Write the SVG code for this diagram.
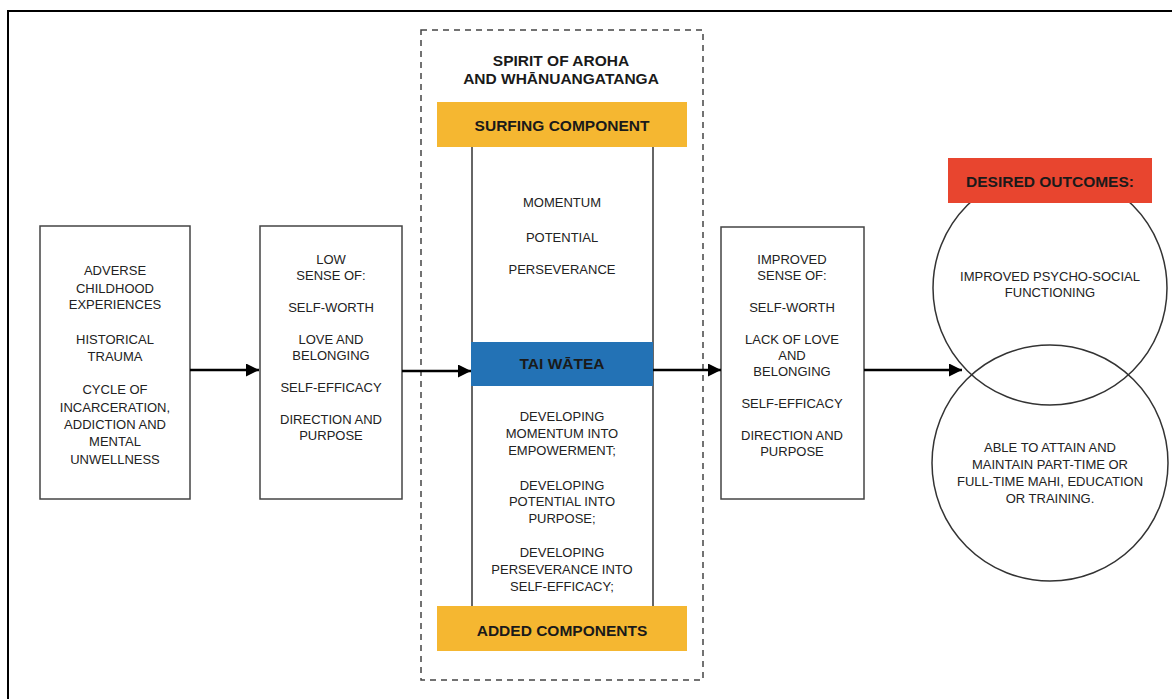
<svg xmlns="http://www.w3.org/2000/svg" width="1172" height="699" viewBox="0 0 1172 699">
  <style>
    .box { fill: #fff; stroke: #444; stroke-width: 1.5; }
    .ring { fill: none; stroke: #333; stroke-width: 1.5; }
    .rail { stroke: #333; stroke-width: 1.5; }
    .t { font-family: "Liberation Sans", Arial, sans-serif; font-size: 13px; fill: #222; text-anchor: middle; }
    .b { font-family: "Liberation Sans", Arial, sans-serif; font-size: 15.5px; font-weight: bold; fill: #1a1a1a; text-anchor: middle; }
    .arrow { stroke: #000; stroke-width: 2.5; fill: none; marker-end: url(#head); }
  </style>
  <defs>
    <marker id="head" markerWidth="13" markerHeight="13" refX="13" refY="6.5" orient="auto" markerUnits="userSpaceOnUse">
      <path d="M0,0 L13,6.5 L0,13 Z" fill="#000"/>
    </marker>
  </defs>

  <rect width="1172" height="699" fill="#fff"/>
  <!-- outer frame -->
  <path d="M8,699 V11 H1172" fill="none" stroke="#000" stroke-width="2"/>

  <!-- dashed programme boundary -->
  <rect x="421" y="30" width="282" height="650" fill="none" stroke="#444" stroke-width="1.5" stroke-dasharray="6,5"/>

  <g id="spirit">
    <text class="b" x="561" y="66">SPIRIT OF AROHA</text>
    <text class="b" x="561" y="84">AND WHĀNUANGATANGA</text>
  </g>

  <g id="rails">
    <line class="rail" x1="472" y1="147" x2="472" y2="606"/>
    <line class="rail" x1="653" y1="147" x2="653" y2="606"/>
  </g>

  <g id="surfing">
    <rect x="437" y="102" width="250" height="45" fill="#F5B731"/>
    <text class="b" x="562" y="131">SURFING COMPONENT</text>
    <text class="t" x="562" y="207">MOMENTUM</text>
    <text class="t" x="562" y="242">POTENTIAL</text>
    <text class="t" x="562" y="274">PERSEVERANCE</text>
  </g>

  <g id="tai-watea">
    <rect x="471" y="342" width="182" height="44" fill="#2372B5"/>
    <text class="b" x="562" y="369">TAI WĀTEA</text>
  </g>

  <g id="developing">
    <text class="t" x="562" y="421">DEVELOPING</text>
    <text class="t" x="562" y="438">MOMENTUM INTO</text>
    <text class="t" x="562" y="455">EMPOWERMENT;</text>
    <text class="t" x="562" y="490">DEVELOPING</text>
    <text class="t" x="562" y="506">POTENTIAL INTO</text>
    <text class="t" x="562" y="523">PURPOSE;</text>
    <text class="t" x="562" y="557">DEVELOPING</text>
    <text class="t" x="562" y="574">PERSEVERANCE INTO</text>
    <text class="t" x="562" y="591">SELF-EFFICACY;</text>
  </g>

  <g id="added">
    <rect x="437" y="606" width="250" height="45" fill="#F5B731"/>
    <text class="b" x="562" y="636">ADDED COMPONENTS</text>
  </g>

  <g id="adverse">
    <rect class="box" x="40" y="226" width="150" height="273"/>
    <text class="t" x="115" y="275">ADVERSE</text>
    <text class="t" x="115" y="293">CHILDHOOD</text>
    <text class="t" x="115" y="309">EXPERIENCES</text>
    <text class="t" x="115" y="344">HISTORICAL</text>
    <text class="t" x="115" y="361">TRAUMA</text>
    <text class="t" x="115" y="394">CYCLE OF</text>
    <text class="t" x="115" y="412">INCARCERATION,</text>
    <text class="t" x="115" y="429">ADDICTION AND</text>
    <text class="t" x="115" y="446">MENTAL</text>
    <text class="t" x="115" y="464">UNWELLNESS</text>
  </g>

  <g id="low-sense">
    <rect class="box" x="260" y="226" width="142" height="273"/>
    <text class="t" x="331" y="264">LOW</text>
    <text class="t" x="331" y="280">SENSE OF:</text>
    <text class="t" x="331" y="312">SELF-WORTH</text>
    <text class="t" x="331" y="344">LOVE AND</text>
    <text class="t" x="331" y="360">BELONGING</text>
    <text class="t" x="331" y="392">SELF-EFFICACY</text>
    <text class="t" x="331" y="424">DIRECTION AND</text>
    <text class="t" x="331" y="440">PURPOSE</text>
  </g>

  <g id="improved-sense">
    <rect class="box" x="721" y="227" width="143" height="272"/>
    <text class="t" x="792" y="264">IMPROVED</text>
    <text class="t" x="792" y="280">SENSE OF:</text>
    <text class="t" x="792" y="312">SELF-WORTH</text>
    <text class="t" x="792" y="344">LACK OF LOVE</text>
    <text class="t" x="792" y="360">AND</text>
    <text class="t" x="792" y="376">BELONGING</text>
    <text class="t" x="792" y="408">SELF-EFFICACY</text>
    <text class="t" x="792" y="440">DIRECTION AND</text>
    <text class="t" x="792" y="456">PURPOSE</text>
  </g>

  <g id="psycho-social">
    <circle class="ring" cx="1050" cy="288" r="117"/>
    <text class="t" x="1050" y="281">IMPROVED PSYCHO-SOCIAL</text>
    <text class="t" x="1050" y="297">FUNCTIONING</text>
  </g>

  <g id="mahi">
    <circle class="ring" cx="1050" cy="463" r="118"/>
    <text class="t" x="1050" y="452">ABLE TO ATTAIN AND</text>
    <text class="t" x="1050" y="469">MAINTAIN PART-TIME OR</text>
    <text class="t" x="1050" y="486">FULL-TIME MAHI, EDUCATION</text>
    <text class="t" x="1050" y="503">OR TRAINING.</text>
  </g>

  <g id="desired-outcomes">
    <rect x="948" y="158" width="204" height="45" fill="#E8452F"/>
    <text class="b" x="1050" y="187">DESIRED OUTCOMES:</text>
  </g>

  <g id="connectors">
    <line class="arrow" x1="190" y1="370" x2="259" y2="370"/>
    <line class="arrow" x1="402" y1="371" x2="471" y2="371"/>
    <line class="arrow" x1="653" y1="370" x2="721" y2="370"/>
    <line class="arrow" x1="864" y1="370" x2="962" y2="370"/>
  </g>
</svg>
